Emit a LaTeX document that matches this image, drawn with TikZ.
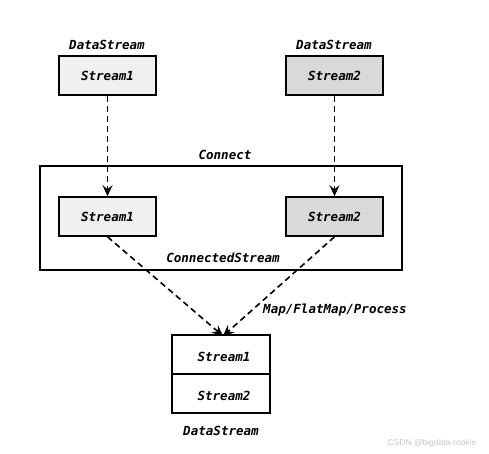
\documentclass[tikz,border=0pt]{standalone}
\usepackage{fontspec}
\usetikzlibrary{arrows.meta}
\newfontfamily\dmono{DejaVu Sans Mono}
\newfontfamily\wmfont{Liberation Sans}
\definecolor{lightfill}{HTML}{F0F0F0}
\definecolor{darkfill}{HTML}{D9D9D9}
\begin{document}
\begin{tikzpicture}[x=1bp,y=-1bp,
  txt/.style={font=\dmono\fontsize{12.6}{14}\selectfont\bfseries\itshape, inner sep=0pt},
  sbox/.style={draw=black, line width=1.6bp, minimum width=97bp, minimum height=39bp, inner sep=0pt, font=\dmono\fontsize{12.6}{14}\selectfont\bfseries\itshape},
  darr/.style={line width=1.6bp, dash pattern=on 6bp off 4bp, -{Stealth[length=11bp,width=10bp,inset=4bp]}}
]
\useasboundingbox[fill=white] (0,0) rectangle (489,454);
% top streams
\node[txt] (dsl) at (107,45) {DataStream};
\node[txt] (dsr) at (334,45) {DataStream};
\node[sbox, fill=lightfill] (s1) at (107.5,75.5) {Stream1};
\node[sbox, fill=darkfill] (s2) at (334.5,75.5) {Stream2};
% connect container
\node[txt] (conn) at (225,155) {Connect};
\node[draw=black, line width=1.6bp, minimum width=362bp, minimum height=104bp, inner sep=0pt] (cs) at (221,218) {};
\node[sbox, fill=lightfill] (c1) at (107.5,216.5) {Stream1};
\node[sbox, fill=darkfill] (c2) at (334.5,216.5) {Stream2};
\node[txt] (csl) at (223,258) {ConnectedStream};
% arrows
\draw[darr] (s1.south) -- (c1.north);
\draw[darr] (s2.south) -- (c2.north);
% bottom datastream
\node[draw=black, line width=1.6bp, minimum width=98bp, minimum height=78bp, inner sep=0pt] (bb) at (221,374) {};
\draw[line width=1.6bp] (bb.west) -- (bb.east);
\node[txt] (b1t) at (224,357) {Stream1};
\node[txt] (b2t) at (224,396) {Stream2};
\node[txt] (dsb) at (221,431) {DataStream};
\coordinate (tgt) at (223,336);
\draw[darr] (c1.south) -- (tgt);
\draw[darr] (c2.south) -- (tgt);
\node[txt] (mfp) at (335,310) {Map/FlatMap/Process};
% watermark
\node[font=\wmfont\fontsize{8.5}{10}\selectfont, text=black!22, inner sep=0pt] (wm) at (432,443) {CSDN @bigdata-rookie};
\end{tikzpicture}
\end{document}
